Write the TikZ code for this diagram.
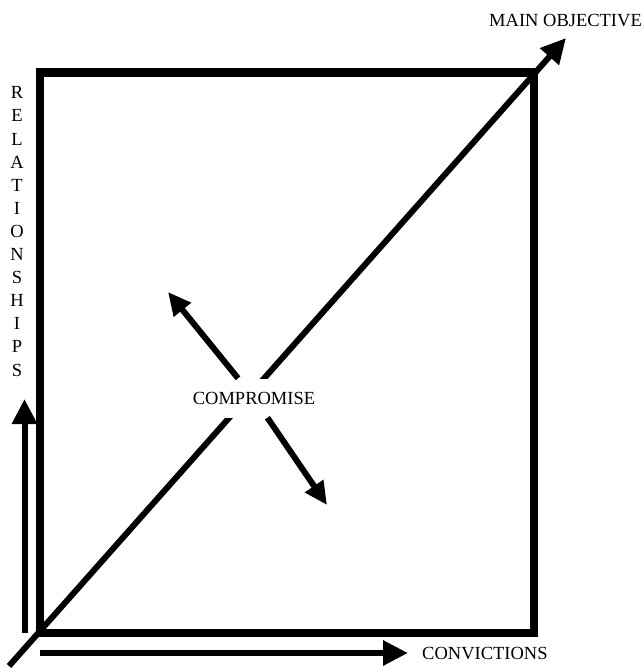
\documentclass[tikz,border=0pt]{standalone}
\usepackage{fontspec}
\setmainfont{Liberation Serif}
\usetikzlibrary{arrows.meta}
\begin{document}
\begin{tikzpicture}[x=1pt,y=-1pt,>={Triangle[length=25pt,width=24pt]},font=\fontsize{18.5}{23.1}\selectfont,
	frame/.style={line width=8pt},
	axis/.style={->,line width=6pt},
	pull/.style={-{Triangle[length=23pt,width=21pt]},line width=6pt}]
	\useasboundingbox (0,0) rectangle (643,669);
	\draw[frame] (40,72.5) rectangle (533.5,633);
	% axes
	\coordinate (O) at (9,666);
	\coordinate (goal) at (566,38);
	\coordinate (relS) at (24.5,633); \coordinate (relE) at (24.5,399);
	\coordinate (convS) at (40,653); \coordinate (convE) at (408,653);
	\draw[axis] (O)--(goal);
	\draw[axis] (relS)--(relE);
	\draw[axis] (convS)--(convE);
	% compromise
	\node[fill=white,inner sep=0pt,minimum height=39pt] (cmp) at (254,398) {COMPROMISE};
	\coordinate (pullA) at (168,292); \coordinate (pullB) at (327,505);
	\draw[pull] (cmp)--(pullA);
	\draw[pull] (cmp)--(pullB);
	% labels
	\node[inner sep=0pt] (obj) at (565.5,21) {MAIN OBJECTIVE};
	\node[inner sep=0pt,anchor=west] (conv) at (422,654) {CONVICTIONS};
	\node[inner sep=0pt,align=center] (rel) at (17,231.5) {R\\E\\L\\A\\T\\I\\O\\N\\S\\H\\I\\P\\S};
\end{tikzpicture}
\end{document}
